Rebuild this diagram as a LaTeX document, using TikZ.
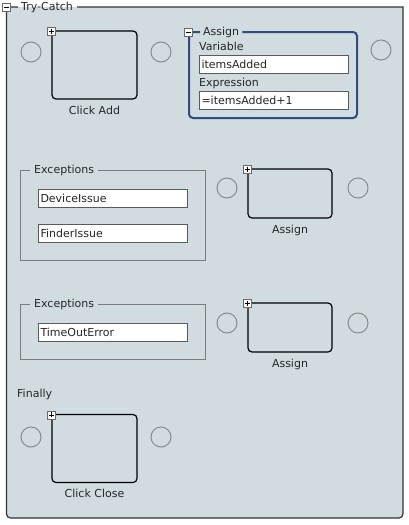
\documentclass[tikz,border=0pt]{standalone}
\usepackage{fontspec}
\setmainfont{DejaVu Sans}
\usetikzlibrary{positioning}

\definecolor{panel}{HTML}{D1DCE1}
\definecolor{ink}{HTML}{262626}
\definecolor{frameink}{HTML}{333333}
\definecolor{navy}{HTML}{2F4C7C}
\definecolor{ringgray}{HTML}{8A8A8A}
\definecolor{groupgray}{HTML}{7C7C7C}
\definecolor{fieldgray}{HTML}{5A5A5A}
\definecolor{signgray}{HTML}{6A6A6A}

\begin{document}
\begin{tikzpicture}[x=1pt,y=-1pt,
    every node/.style={font=\fontsize{11}{13}\selectfont,text=ink},
    slot/.style={circle,draw=ringgray,line width=1pt,minimum size=20pt,inner sep=0pt},
    activity/.style={draw=black,line width=1.2pt,rounded corners=4pt,minimum width=85pt,minimum height=68pt,inner sep=0pt},
    handler/.style={activity,minimum width=84pt,minimum height=49pt},
    field/.style={draw=fieldgray,fill=white,line width=1pt,text width=145pt,align=left,minimum height=18pt,inner xsep=2pt,inner ysep=0pt,anchor=west},
    caption/.style={inner sep=0pt},
    heading/.style={inner sep=0pt,anchor=west},
    btn/.style={rectangle,draw=signgray,fill=white,line width=0.8pt,minimum size=8pt,inner sep=0pt},
    minusbox/.style={btn,
        path picture={\draw[black,line width=0.8pt] ([xshift=1.5pt]path picture bounding box.west) -- ([xshift=-1.5pt]path picture bounding box.east);}},
    plusbox/.style={btn,
        path picture={\draw[black,line width=0.8pt] ([xshift=1.5pt]path picture bounding box.west) -- ([xshift=-1.5pt]path picture bounding box.east)
            ([yshift=-1.5pt]path picture bounding box.north) -- ([yshift=1.5pt]path picture bounding box.south);}}
  ]
  \useasboundingbox (0,0) rectangle (409,525);

  % outer try-catch panel
  \fill[panel] (6.5,300) [rounded corners=4pt] -- (6.5,518) -- (403,518) -- (403,300) [sharp corners] -- (403,7) -- (6.5,7) -- cycle;
  \node[heading] (trycatch) at (21,7) {Try-Catch};
  \draw[frameink,line width=1.2pt] ([xshift=4pt]trycatch.east) -- (403,7) -- (403,300) [rounded corners=4pt] -- (403,518) -- (6.5,518) -- (6.5,300) [sharp corners] -- (6.5,7) -- ([xshift=-3pt]trycatch.west);
  \node[minusbox] (tcbtn) at (6.5,7) {};

  % try body
  \node[slot] (addin) at (31,52) {};
  \node[activity] (add) at (94.5,65) {};
  \node[plusbox] at ([yshift=-1pt]add.north west) {};
  \node[caption,below=6pt of add] {Click Add};
  \node[slot] (addout) at (161,52) {};

  % assign group
  \node[heading] (asgtitle) at (203,32) {Assign};
  \draw[navy,line width=2pt,rounded corners=4pt] ([xshift=3pt]asgtitle.east) -- (357,32) -- (357,118) -- (189,118) -- (189,32) -- ([xshift=-3pt]asgtitle.west);
  \node[minusbox] at (188,32) {};
  \node[heading] at (199,46) {Variable};
  \node[field] (varfield) at (199,64) {itemsAdded};
  \node[heading] at (199,83) {Expression};
  \node[field] (exprfield) at (199,100) {=itemsAdded+1};
  \node[slot] (asgout) at (381,50) {};

  % first catch
  \node[heading] (exc1) at (34,170) {Exceptions};
  \draw[groupgray,line width=1pt] ([xshift=-4pt]exc1.west) -- (20,170) -- (20,260) -- (205,260) -- (205,170) -- ([xshift=4pt]exc1.east);
  \node[field] (device) at (38,198) {DeviceIssue};
  \node[field] (finder) at (38,233) {FinderIssue};
  \node[slot] (c1in) at (227,188) {};
  \node[handler] (c1body) at (290,193.5) {};
  \node[plusbox] at ([yshift=-1pt]c1body.north west) {};
  \node[caption,below=6pt of c1body] {Assign};
  \node[slot] (c1out) at (358,188) {};

  % second catch
  \node[heading] (exc2) at (34,304) {Exceptions};
  \draw[groupgray,line width=1pt] ([xshift=-4pt]exc2.west) -- (20,304) -- (20,359) -- (205,359) -- (205,304) -- ([xshift=4pt]exc2.east);
  \node[field] (timeout) at (38,332) {TimeOutError};
  \node[slot] (c2in) at (227,323) {};
  \node[handler] (c2body) at (290,327.5) {};
  \node[plusbox] at ([yshift=-1pt]c2body.north west) {};
  \node[caption,below=6pt of c2body] {Assign};
  \node[slot] (c2out) at (358,323) {};

  % finally
  \node[heading] (finally) at (17,394) {Finally};
  \node[slot] (closein) at (31,437) {};
  \node[activity] (close) at (94.5,448.5) {};
  \node[plusbox] at ([yshift=-1pt]close.north west) {};
  \node[caption,below=6pt of close] {Click Close};
  \node[slot] (closeout) at (161,437) {};
\end{tikzpicture}
\end{document}
